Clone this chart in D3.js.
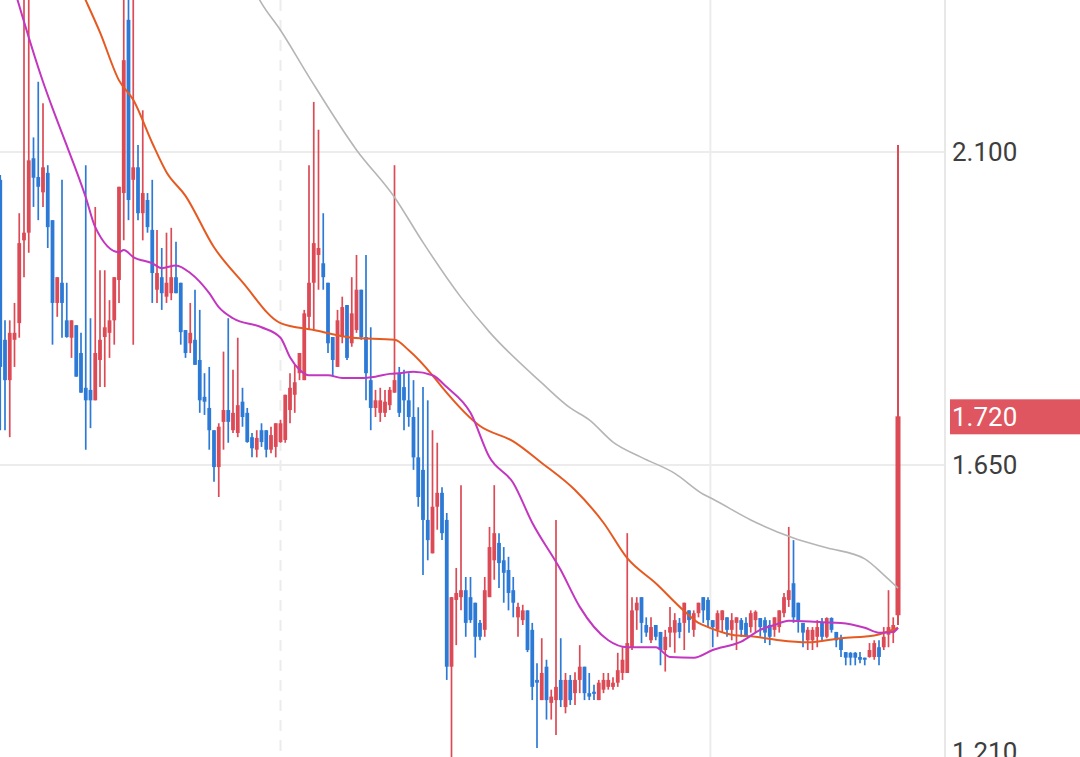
<!DOCTYPE html>
<html>
<head>
<meta charset="utf-8">
<script src="https://cdn.jsdelivr.net/npm/d3@7"></script>
<style>
  body { margin: 0; background: #fff; overflow: hidden; }
  svg { display: block; }
</style>
</head>
<body>
<div id="container"></div>
<script>
// DATA (one entry per candle, oldest first)
let open = [
  2.060,1.830,1.772,1.830,1.854,1.973,1.984,2.091,2.064,2.042,
  2.070,2.002,1.883,1.912,1.858,1.833,1.851,1.811,1.761,1.758,
  1.743,1.801,1.834,1.840,1.858,1.916,2.041,2.290,2.060,2.078,
  2.012,2.031,1.988,1.902,1.920,1.892,1.897,1.920,1.912,1.844,
  1.825,1.830,1.801,1.748,1.732,1.700,1.647,1.712,1.729,1.700,
  1.696,1.741,1.725,1.690,1.672,1.700,1.700,1.672,1.676,1.683,
  1.686,1.729,1.751,1.782,1.772,1.863,1.912,1.952,1.940,1.912,
  1.834,1.791,1.834,1.880,1.825,1.844,1.902,1.834,1.772,1.732,
  1.725,1.725,1.736,1.754,1.782,1.762,1.743,1.719,1.661,1.643,
  1.571,1.523,1.590,1.610,1.571,1.360,1.456,1.460,1.470,1.460,
  1.452,1.423,1.413,1.460,1.513,1.538,1.513,1.499,1.470,1.431,
  1.427,1.441,1.413,1.341,1.312,1.360,1.308,1.312,1.341,1.302,
  1.341,1.322,1.341,1.360,1.322,1.324,1.312,1.327,1.331,1.331,
  1.337,1.351,1.351,1.388,1.441,1.460,1.420,1.398,1.420,1.410,
  1.384,1.409,1.409,1.423,1.423,1.441,1.413,1.437,1.460,1.456,
  1.427,1.413,1.427,1.431,1.413,1.423,1.427,1.423,1.417,1.427,
  1.430,1.427,1.420,1.413,1.417,1.437,1.456,1.480,1.452,1.423,
  1.398,1.398,1.403,1.423,1.403,1.430,1.410,1.401,1.381,1.380,
  1.380,1.374,1.373,1.374,1.374,1.388,1.388,1.406,1.409,1.434
];
let high = [
  2.067,1.858,1.858,1.883,2.012,2.347,2.347,2.121,2.201,2.170,
  2.081,2.002,1.920,2.060,1.912,1.858,1.851,1.840,2.081,1.861,
  2.021,1.930,1.930,1.887,1.920,2.050,2.405,2.362,2.333,2.110,
  2.160,2.041,2.060,1.988,1.962,1.984,1.991,1.971,1.912,1.844,
  1.883,1.902,1.873,1.782,1.791,1.700,1.710,1.813,1.861,1.787,
  1.833,1.761,1.732,1.696,1.700,1.710,1.700,1.705,1.710,1.715,
  1.751,1.782,1.794,1.811,1.873,2.081,2.172,2.132,2.012,1.912,
  1.834,1.873,1.892,1.880,1.920,1.952,1.902,1.952,1.848,1.758,
  1.761,1.758,1.762,2.081,1.791,1.787,1.782,1.772,1.733,1.762,
  1.743,1.700,1.682,1.618,1.581,1.460,1.502,1.621,1.489,1.489,
  1.452,1.427,1.489,1.561,1.621,1.552,1.532,1.518,1.489,1.452,
  1.449,1.441,1.423,1.365,1.401,1.370,1.327,1.571,1.401,1.351,
  1.348,1.352,1.391,1.360,1.351,1.334,1.341,1.351,1.351,1.345,
  1.380,1.388,1.552,1.460,1.460,1.460,1.431,1.431,1.420,1.410,
  1.413,1.446,1.437,1.430,1.452,1.441,1.441,1.452,1.460,1.460,
  1.427,1.441,1.441,1.431,1.437,1.431,1.430,1.431,1.441,1.441,
  1.430,1.431,1.427,1.431,1.441,1.466,1.561,1.542,1.452,1.423,
  1.417,1.417,1.427,1.430,1.431,1.431,1.410,1.406,1.381,1.381,
  1.381,1.381,1.373,1.394,1.398,1.398,1.417,1.470,1.431,2.110
];
let low = [
  1.700,1.700,1.690,1.791,1.833,1.920,1.955,2.021,2.002,2.021,
  1.962,1.823,1.863,1.833,1.833,1.804,1.777,1.754,1.672,1.703,
  1.743,1.762,1.762,1.804,1.823,1.883,1.973,2.002,1.823,2.002,
  1.973,1.984,1.883,1.883,1.873,1.883,1.887,1.897,1.823,1.804,
  1.811,1.794,1.725,1.722,1.672,1.626,1.604,1.672,1.682,1.696,
  1.690,1.705,1.682,1.661,1.661,1.676,1.661,1.667,1.661,1.682,
  1.682,1.710,1.725,1.772,1.772,1.844,1.844,1.902,1.902,1.811,
  1.777,1.791,1.825,1.801,1.820,1.840,1.830,1.743,1.700,1.719,
  1.712,1.719,1.729,1.754,1.719,1.700,1.705,1.643,1.590,1.492,
  1.513,1.523,1.557,1.542,1.341,1.183,1.391,1.441,1.403,1.423,
  1.373,1.398,1.403,1.460,1.485,1.473,1.452,1.441,1.431,1.403,
  1.420,1.381,1.312,1.243,1.312,1.284,1.284,1.262,1.302,1.293,
  1.305,1.305,1.322,1.312,1.312,1.312,1.312,1.322,1.327,1.327,
  1.331,1.341,1.351,1.384,1.413,1.394,1.403,1.394,1.398,1.362,
  1.353,1.388,1.380,1.401,1.384,1.409,1.403,1.431,1.423,1.417,
  1.388,1.403,1.409,1.403,1.398,1.384,1.403,1.403,1.409,1.409,
  1.403,1.394,1.391,1.403,1.409,1.431,1.446,1.423,1.409,1.388,
  1.384,1.384,1.388,1.398,1.401,1.409,1.388,1.374,1.362,1.362,
  1.362,1.365,1.362,1.373,1.370,1.362,1.384,1.388,1.394,1.420
];
let close = [
  1.791,1.772,1.840,1.840,1.969,1.984,2.088,2.063,2.050,2.078,
  1.992,1.883,1.920,1.883,1.834,1.858,1.777,1.754,1.743,1.743,
  1.811,1.830,1.848,1.858,1.920,2.050,2.232,2.031,2.078,2.012,
  2.041,1.992,1.926,1.926,1.897,1.912,1.920,1.897,1.841,1.811,
  1.840,1.794,1.743,1.741,1.700,1.647,1.705,1.729,1.712,1.725,
  1.736,1.719,1.683,1.674,1.689,1.683,1.672,1.693,1.710,1.710,
  1.751,1.761,1.769,1.811,1.868,1.912,1.969,1.962,1.920,1.825,
  1.801,1.858,1.877,1.804,1.868,1.902,1.834,1.782,1.732,1.743,
  1.743,1.741,1.758,1.772,1.725,1.743,1.719,1.661,1.604,1.571,
  1.542,1.590,1.610,1.552,1.360,1.460,1.466,1.470,1.423,1.427,
  1.403,1.403,1.470,1.532,1.552,1.509,1.495,1.466,1.452,1.446,
  1.441,1.384,1.331,1.337,1.351,1.312,1.317,1.331,1.312,1.341,
  1.312,1.341,1.360,1.322,1.317,1.321,1.337,1.341,1.341,1.337,
  1.355,1.370,1.394,1.441,1.452,1.423,1.409,1.417,1.403,1.384,
  1.403,1.417,1.427,1.410,1.452,1.427,1.437,1.452,1.441,1.427,
  1.417,1.437,1.441,1.413,1.427,1.431,1.413,1.403,1.437,1.439,
  1.417,1.409,1.403,1.431,1.441,1.460,1.470,1.431,1.427,1.409,
  1.413,1.413,1.417,1.403,1.430,1.413,1.398,1.384,1.373,1.373,
  1.373,1.370,1.370,1.384,1.394,1.374,1.403,1.417,1.420,1.720
];

// moving averages, read at some candle indexes
let maShortIdx = [2,9,11,13,18,20,25,26,28,32,34,37,40,44,46,49,55,59,61,63,65,69,72,76,79,82,84,87,91,94,99,103,108,112,118,122,128,132,138,141,146,150,156,160,163,166,173,177,182,185,188,189];
let maShortVal = [2.357,2.201,2.163,2.127,2.035,1.992,1.956,1.959,1.949,1.940,1.933,1.937,1.926,1.897,1.877,1.861,1.848,1.833,1.805,1.787,1.779,1.779,1.775,1.775,1.777,1.781,1.782,1.784,1.779,1.762,1.725,1.661,1.624,1.567,1.499,1.446,1.398,1.388,1.388,1.374,1.373,1.384,1.396,1.413,1.420,1.426,1.424,1.423,1.416,1.409,1.410,1.416];

let maMidIdx = [17,18,21,25,28,32,35,39,45,51,59,66,74,83,86,91,93,101,108,114,121,127,132,138,144,147,149,154,159,164,170,177,184,189];
let maMidVal = [2.333,2.318,2.272,2.203,2.175,2.113,2.071,2.037,1.963,1.913,1.854,1.844,1.833,1.830,1.815,1.779,1.762,1.706,1.684,1.653,1.614,1.567,1.516,1.480,1.440,1.423,1.417,1.406,1.403,1.398,1.395,1.401,1.405,1.416];

let maLongIdx = [54,55,59,65,75,83,89,97,103,114,120,124,129,135,142,148,150,158,167,174,182,186,189];
let maLongVal = [2.326,2.314,2.275,2.208,2.103,2.035,1.970,1.891,1.841,1.768,1.732,1.715,1.683,1.661,1.638,1.608,1.601,1.571,1.545,1.531,1.515,1.492,1.473];

let priceTicks = [2.1, 1.65, 1.21];
let lastPrice = 1.720;
let timeMarks = [59, 149.5];   // first one drawn dashed

// SIZES
let w = 1080;
let h = 757;
let axisX = 945;
let upColor = "#dc4a55";
let downColor = "#2d7ad6";

let viz = d3.select("#container").append("svg")
    .attr("width", w)
    .attr("height", h)
    .style("background-color", "white")
;

// SCALES
let n = open.length;
let xScale = d3.scaleLinear().domain([0, n - 1]).range([0.25, 898]);
let yScale = d3.scaleLinear().domain([1.65, 2.1]).range([465, 152]);

viz.append("clipPath").attr("id", "plotClip")
  .append("rect").attr("x", 0).attr("y", 0).attr("width", axisX).attr("height", h);

// GRID
viz.selectAll(".hgrid").data(priceTicks).enter()
  .append("line")
    .attr("class", "hgrid")
    .attr("x1", 0).attr("x2", axisX)
    .attr("y1", d => yScale(d)).attr("y2", d => yScale(d))
    .attr("stroke", "#ececec")
    .attr("stroke-width", 2)
;
viz.selectAll(".vgrid").data(timeMarks).enter()
  .append("line")
    .attr("class", "vgrid")
    .attr("x1", d => xScale(d)).attr("x2", d => xScale(d))
    .attr("y1", 0).attr("y2", h)
    .attr("stroke", "#ececec")
    .attr("stroke-width", 2)
    .attr("stroke-dasharray", (d, i) => i == 0 ? "11,9" : null)
;
viz.append("line")
  .attr("x1", axisX).attr("x2", axisX)
  .attr("y1", 0).attr("y2", h)
  .attr("stroke", "#e8e8e8")
  .attr("stroke-width", 2);

// CANDLES
let candles = d3.range(n).map(function(i){
  return {i: i, o: open[i], h: high[i], l: low[i], c: close[i]};
});
let plot = viz.append("g").attr("clip-path", "url(#plotClip)");

let cg = plot.selectAll(".candle").data(candles).enter()
  .append("g")
    .attr("class", "candle")
    .attr("fill", d => d.c >= d.o ? upColor : downColor)
    .attr("stroke", d => d.c >= d.o ? upColor : downColor)
;
cg.append("line")
  .attr("x1", d => xScale(d.i)).attr("x2", d => xScale(d.i))
  .attr("y1", d => yScale(d.h)).attr("y2", d => yScale(d.l))
  .attr("stroke-width", d => d.i == n - 1 ? 2 : 1.7);
cg.append("rect")
  .attr("stroke", "none")
  .attr("x", d => xScale(d.i) - (d.i == n - 1 ? 2.5 : 1.9))
  .attr("width", d => d.i == n - 1 ? 5 : 3.8)
  .attr("y", d => yScale(Math.max(d.o, d.c)))
  .attr("height", d => Math.max(1.5, Math.abs(yScale(d.o) - yScale(d.c))));

// MOVING AVERAGES
let lineMaker = d3.line()
  .x(d => xScale(d[0]))
  .y(d => yScale(d[1]))
  .curve(d3.curveMonotoneX);

let maLines = [
  {idx: maLongIdx, val: maLongVal, color: "#b5b5b5", width: 1.6},
  {idx: maMidIdx, val: maMidVal, color: "#e65a22", width: 2},
  {idx: maShortIdx, val: maShortVal, color: "#c236c0", width: 2}
];
plot.selectAll(".ma").data(maLines).enter()
  .append("path")
    .attr("class", "ma")
    .attr("d", d => lineMaker(d.idx.map((k, j) => [k, d.val[j]])))
    .attr("fill", "none")
    .attr("stroke", d => d.color)
    .attr("stroke-width", d => d.width)
;

// PRICE AXIS LABELS (a label whose line is below the view sticks to the bottom edge)
viz.selectAll(".tick").data(priceTicks).enter()
  .append("text")
    .attr("class", "tick")
    .attr("x", 952)
    .attr("y", d => Math.min(yScale(d), h - 5))
    .attr("dy", "0.36em")
    .attr("font-family", "Roboto, sans-serif")
    .attr("font-size", 26)
    .attr("fill", "#3e3e3e")
    .text(d => d3.format(".3f")(d))
;

// LAST PRICE TAG
viz.append("rect")
  .attr("x", 950).attr("width", w - 950)
  .attr("y", yScale(lastPrice) - 17).attr("height", 35)
  .attr("fill", "#df5660");
viz.append("text")
  .attr("x", 952)
  .attr("y", yScale(lastPrice))
  .attr("dy", "0.36em")
  .attr("font-family", "Roboto, sans-serif")
  .attr("font-size", 26)
  .attr("fill", "white")
  .text(d3.format(".3f")(lastPrice));
</script>
</body>
</html>
